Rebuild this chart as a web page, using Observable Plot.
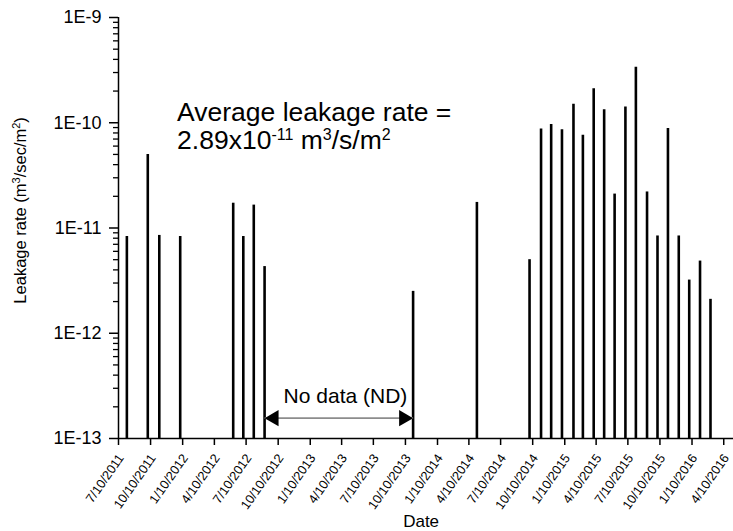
<!DOCTYPE html>
<html><head><meta charset="utf-8">
<script src="https://cdn.jsdelivr.net/npm/d3@7"></script>
<script src="https://cdn.jsdelivr.net/npm/@observablehq/plot@0.6"></script>
<style>
body{margin:0;background:#fff}
svg{font-family:"Liberation Sans",Arial,sans-serif}
</style>
</head><body><div id="chart"></div>
<script>
// ---- data ----
const sampleDates = ["2011-08-03","2011-10-02","2011-11-04","2012-01-03","2012-06-03","2012-07-02","2012-08-01","2012-09-01",
  "2013-11-01","2014-05-03","2014-10-01","2014-11-03","2014-12-02","2015-01-02","2015-02-04","2015-03-03","2015-04-03",
  "2015-05-03","2015-06-02","2015-07-03","2015-08-02","2015-09-03","2015-10-03","2015-11-02","2015-12-03","2016-01-02",
  "2016-02-02","2016-03-03"];
const leakageRates = [8.3e-12,5.0e-11,8.5e-12,8.3e-12,1.72e-11,8.3e-12,1.65e-11,4.3e-12,
  2.5e-12,1.75e-11,5.0e-12,8.7e-11,9.6e-11,8.6e-11,1.5e-10,7.6e-11,2.1e-10,
  1.33e-10,2.1e-11,1.41e-10,3.37e-10,2.2e-11,8.4e-12,8.8e-11,8.4e-12,3.2e-12,
  4.85e-12,2.1e-12];
const xTickLabels = ["7/10/2011","10/10/2011","1/10/2012","4/10/2012","7/10/2012","10/10/2012","1/10/2013","4/10/2013",
  "7/10/2013","10/10/2013","1/10/2014","4/10/2014","7/10/2014","10/10/2014","1/10/2015","4/10/2015","7/10/2015",
  "10/10/2015","1/10/2016","4/10/2016"];
const yTickValues = [1e-13,1e-12,1e-11,1e-10,1e-9];
const yTickLabels = ["1E-13","1E-12","1E-11","1E-10","1E-9"];
const xAxisEnd = "2016-05-08";
const yLabel = "Leakage rate (m3/sec/m2)";
const xLabel = "Date";
const avgLines = ["Average leakage rate =","2.89x10-11 m3/s/m2"];
const avgAnchorDate = "2011-12-25";
const avgAnchorY = [1.26e-10, 6.82e-11];
const noDataText = "No data (ND)";
const noDataStart = "2012-09-01";
const noDataEnd = "2013-11-01";
const noDataArrowY = 1.56e-13;
const noDataTextDate = "2013-04-21";
const noDataTextY = 2.51e-13;

// ---- build ----
const parse = d3.utcParse("%Y-%m-%d");
const parseTick = d3.utcParse("%m/%d/%Y");
const data = sampleDates.map((d,i)=>({date: parse(d), rate: leakageRates[i]}));
const tickDates = xTickLabels.map(parseTick);
const xLabelMap = new Map(tickDates.map((d,i)=>[+d, xTickLabels[i]]));
const yLabelMap = new Map(yTickValues.map((v,i)=>[v, yTickLabels[i]]));
const xStart = tickDates[0];
const xEnd = parse(xAxisEnd);
const yMin = yTickValues[0], yMax = yTickValues[yTickValues.length-1];
const minorTicks = d3.scaleLog().domain([yMin,yMax]).ticks().filter(v=>!yTickValues.some(t=>Math.abs(t-v)/t<1e-6));

const plot = Plot.plot({
  width: 733, height: 531,
  marginLeft: 118, marginTop: 17, marginBottom: 93, marginRight: 0,
  style: {fontFamily: "'Liberation Sans', Arial, sans-serif", background: "white", overflow: "visible"},
  x: {type: "utc", domain: [xStart, xEnd]},
  y: {type: "log", domain: [yMin, yMax]},
  marks: [
    Plot.axisY(minorTicks, {tickSize: 5, tickFormat: () => "", strokeWidth: 1.3, label: null}),
    Plot.axisY(yTickValues, {tickSize: 9, tickPadding: 8, strokeWidth: 1.5, tickFormat: d => yLabelMap.get(d), fontSize: 18, label: null}),
    // x ticks (marks only) and x tick labels (offset)
    Plot.axisX(tickDates, {tickSize: 7, strokeWidth: 1.5, tickFormat: () => "", label: null}),
    Plot.axisX(tickDates, {tickSize: 0, tickPadding: 17, tickRotate: -55, tickFormat: d => xLabelMap.get(+d), fontSize: 12.8, dx: 2.5, label: null}),
    Plot.ruleY([yMin], {strokeWidth: 1.5}),
    Plot.ruleX([xStart], {strokeWidth: 1.5}),
    Plot.ruleX(data, {x: "date", y1: yMin, y2: "rate", strokeWidth: 2.6, stroke: "black"}),
    // no-data arrow
    Plot.link([{a: parse(noDataStart), b: parse(noDataEnd)}], {x1: "a", x2: "b", y1: noDataArrowY, y2: noDataArrowY, stroke: "#8c8c8c", strokeWidth: 1.6}),
    Plot.dot([parse(noDataStart)], {x: d => d, y: noDataArrowY, symbol: "triangle", r: 6, fill: "black", stroke: "none", rotate: -90, dx: 9.3}),
    Plot.dot([parse(noDataEnd)], {x: d => d, y: noDataArrowY, symbol: "triangle", r: 6, fill: "black", stroke: "none", rotate: 90, dx: -9.3}),
    Plot.text([noDataText], {x: parse(noDataTextDate), y: noDataTextY, text: d => d, fontSize: 21, textAnchor: "middle"}),
    // average annotation
    Plot.text(avgLines, {x: parse(avgAnchorDate), y: (d,i) => avgAnchorY[i], text: d => d, fontSize: 26.5, textAnchor: "start"}),
    // axis labels
    Plot.text([yLabel], {x: xStart, y: 1.47e-11, text: d => d, rotate: -90, dx: -98, fontSize: 16.5, textAnchor: "middle"}),
    Plot.text([xLabel], {x: parse("2013-11-24"), frameAnchor: "bottom", text: d => d, dy: 88, fontSize: 17, textAnchor: "middle"})
  ]
});
document.getElementById("chart").append(plot);

// superscripts
function richify(content, parts, supSize, shift) {
  d3.select(plot).selectAll("text").filter(function(){ return this.textContent === content; }).each(function(){
    const t = d3.select(this);
    t.text("");
    let raised = false;
    parts.forEach(([s, sup], k) => {
      if (!sup && !raised && k === 0) { t.append("tspan").text(s); return; }
      const ts = t.append("tspan").text(s);
      if (sup) { ts.attr("dy", -shift).attr("font-size", supSize); raised = true; }
      else if (raised) { ts.attr("dy", shift); raised = false; }
    });
  });
}
richify(avgLines[1], [["2.89x10"],["-11",true],[" m"],["3",true],["/s/m"],["2",true]], 16, 9);
richify(yLabel, [["Leakage rate (m"],["3",true],["/sec/m"],["2",true],[")"]], 11, 6);
</script>
</body></html>
